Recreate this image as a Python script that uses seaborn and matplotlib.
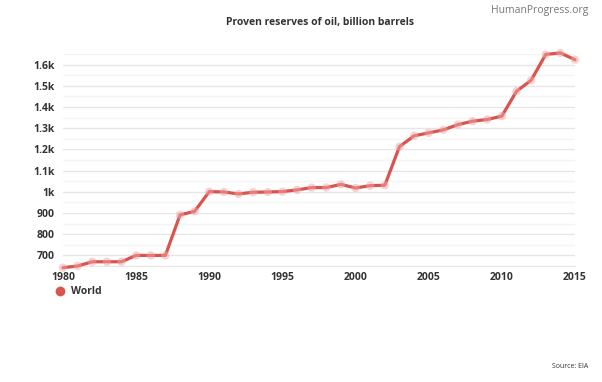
import pandas as pd
import numpy as np
import seaborn as sns
import matplotlib.pyplot as plt
from matplotlib.lines import Line2D
from matplotlib.ticker import MultipleLocator

years = list(range(1980, 2016))
reserves = [642, 650, 670, 670, 670, 700, 700, 700, 891, 908,
            1001, 999, 990, 998, 999, 1001, 1009, 1020, 1020, 1035,
            1018, 1029, 1031, 1213, 1264, 1278, 1292, 1317, 1333, 1341,
            1357, 1474, 1526, 1648, 1655, 1623]
ytick_vals = [700, 800, 900, 1000, 1100, 1200, 1300, 1400, 1500, 1600]
ytick_labels = ['700', '800', '900', '1k', '1.1k', '1.2k', '1.3k', '1.4k', '1.5k', '1.6k']
xtick_vals = [1980, 1985, 1990, 1995, 2000, 2005, 2010, 2015]

df = pd.DataFrame({'Year': years, 'Reserves': reserves})

sns.set_style('white')
plt.rcParams['font.family'] = ['Open Sans', 'DejaVu Sans']

red = '#d9534f'
txt = '#333333'

fig = plt.figure(figsize=(6.02, 3.82), dpi=100)
ax = fig.add_axes([63/602, 1-266/382, (575-63)/602, (266-54)/382])

sns.lineplot(data=df, x='Year', y='Reserves', ax=ax, color=red, linewidth=2.3, zorder=3, clip_on=False)
sns.scatterplot(data=df, x='Year', y='Reserves', ax=ax, color='#f2a5a5', s=36, alpha=0.5,
                edgecolor='none', zorder=4, clip_on=False)

ax.set_xlim(1980, 2015)
ax.set_ylim(650, 1650)
ax.set_yticks(ytick_vals)
ax.set_yticklabels(ytick_labels)
ax.set_xticks(xtick_vals)
ax.yaxis.set_minor_locator(MultipleLocator(50))
ax.grid(axis='y', which='major', color='#e6e6e6', linewidth=1)
ax.grid(axis='y', which='minor', color='#f4f4f4', linewidth=1)
ax.set_axisbelow(True)
for s in ['top', 'right', 'left']:
    ax.spines[s].set_visible(False)
ax.spines['bottom'].set_color('#e6e6e6')
ax.tick_params(axis='both', which='both', length=0, labelsize=7.5, labelcolor=txt)
ax.tick_params(axis='y', pad=6)
ax.tick_params(axis='x', pad=4)
for lab in ax.get_xticklabels() + ax.get_yticklabels():
    lab.set_fontweight('bold')
ax.set_xlabel('')
ax.set_ylabel('')

fig.text(0.532, 1-22/382, 'Proven reserves of oil, billion barrels', ha='center', va='center',
         fontsize=7.5, fontweight='bold', color=txt)
fig.text(588/602, 1-11/382, 'HumanProgress.org', ha='right', va='center', fontsize=7.5, color='#777777')
fig.text(588/602, 1-366/382, 'Source: EIA', ha='right', va='center', fontsize=5, color=txt)

handle = Line2D([], [], marker='o', linestyle='none', color=red, markersize=6)
leg = fig.legend([handle], ['World'], loc='center left', bbox_to_anchor=(50/602, 1-292/382),
                 frameon=False, handletextpad=0.5, borderpad=0, handlelength=1,
                 prop={'size': 7.5, 'weight': 'bold'})
for t in leg.get_texts():
    t.set_color(txt)

fig.savefig('out.png', dpi=100)
